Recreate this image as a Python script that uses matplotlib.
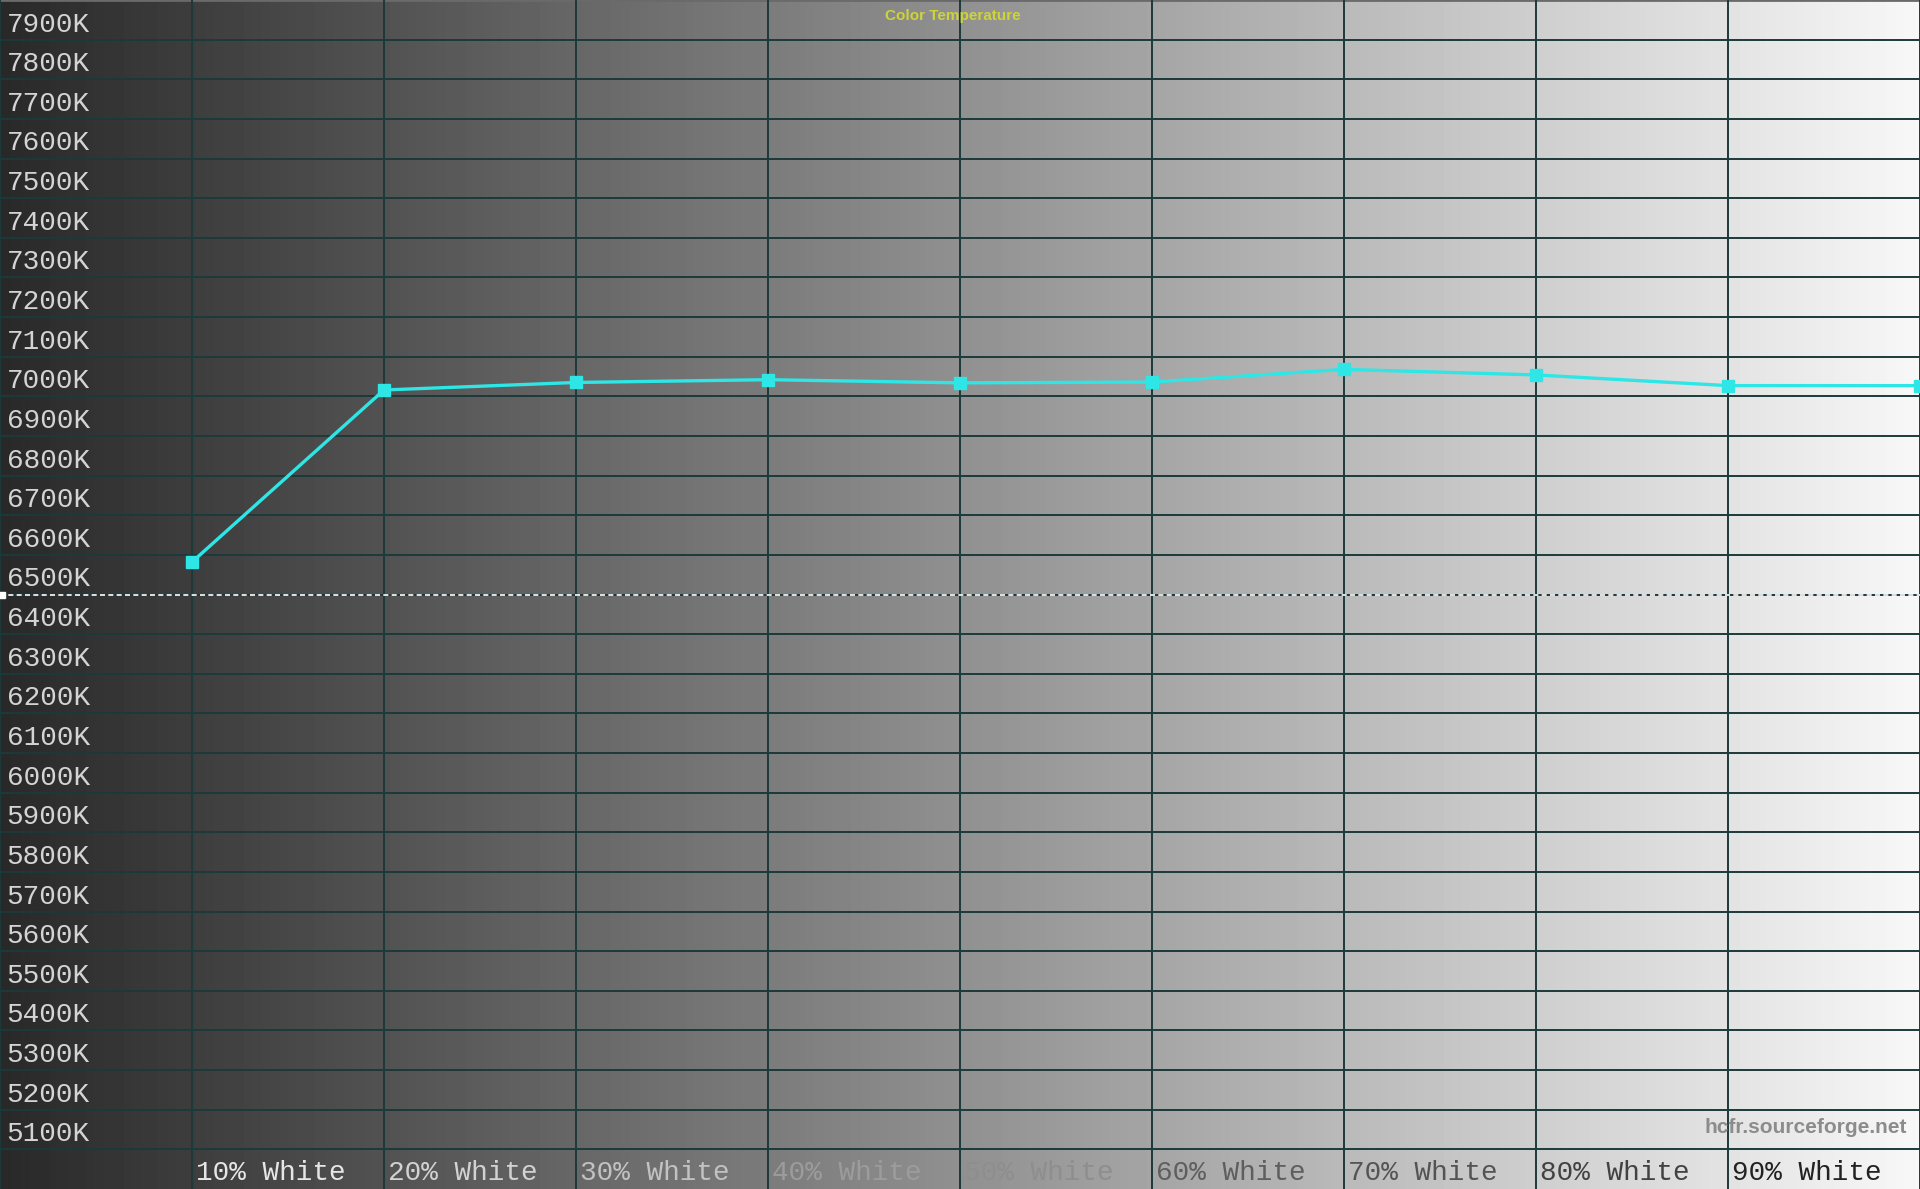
import matplotlib.pyplot as plt
import numpy as np

# measured colour temperature per grey step (K)
levels = [10, 20, 30, 40, 50, 60, 70, 80, 90, 100]
temps = [6582, 7016, 7035, 7042, 7034, 7036, 7068, 7054, 7027, 7027]
target = 6500
xlabels = ["%d%% White" % l for l in levels[:-1]]
xlabel_colors = ["#e6e6e6", "#d2d2d2", "#c2c2c2", "#9c9c9c", "#8e8e8e",
                 "#5e5e5e", "#545454", "#424242", "#222222"]
yticks = list(range(5100, 8000, 100))

fig = plt.figure(figsize=(19.2, 11.89), dpi=100)
ax = fig.add_axes([0, 0, 1, 1])
ax.set_xlim(0, 10)
ax.set_ylim(5000, 8000)
ax.axis("off")

# grey ramp background
grad = np.linspace(0.16, 0.97, 512).reshape(1, -1)
ax.imshow(grad, extent=[0, 10, 5000, 8000], aspect="auto", cmap="gray",
          vmin=0, vmax=1, zorder=0)

grid_col = "#1c3a3a"
for v in yticks:
    ax.axhline(v, color=grid_col, lw=1.4, zorder=1)
    ax.text(0.035, v + 38, "%dK" % v, color="#d4d4d4", fontsize=20,
            family="Liberation Mono", va="center", ha="left", zorder=3)
ax.axhline(8000, color="#6a6a6a", lw=2, zorder=1)
for i in range(0, 11):
    ax.axvline(i, color=grid_col, lw=1.4, zorder=1)

for i, (lab, c) in enumerate(zip(xlabels, xlabel_colors)):
    ax.text(levels[i] / 10 + 0.02, 5040, lab, color=c, fontsize=20,
            family="Liberation Mono", va="center", ha="left", zorder=3)

# 6500K reference
ax.axhline(target, color="white", lw=1.2, ls=(0, (3, 2)), zorder=2)
ax.plot([0.01], [target], marker="s", ms=5, color="white", zorder=4,
        clip_on=False)

x = [l / 10 for l in levels]
ax.plot(x, temps, color="#2ee6e6", lw=2.4, marker="s", ms=9,
        mec="#2ee6e6", zorder=5)

ax.text(4.96, 7960, "Color Temperature", color="#cdd43a", fontsize=11,
        fontweight="bold", family="Liberation Sans", ha="center",
        va="center", zorder=3)
ax.text(9.93, 5155, "hcfr.sourceforge.net", color="#8c8c8c", fontsize=15,
        fontweight="bold", family="Liberation Sans", ha="right",
        va="center", zorder=3)

fig.savefig("out.png", dpi=100)
